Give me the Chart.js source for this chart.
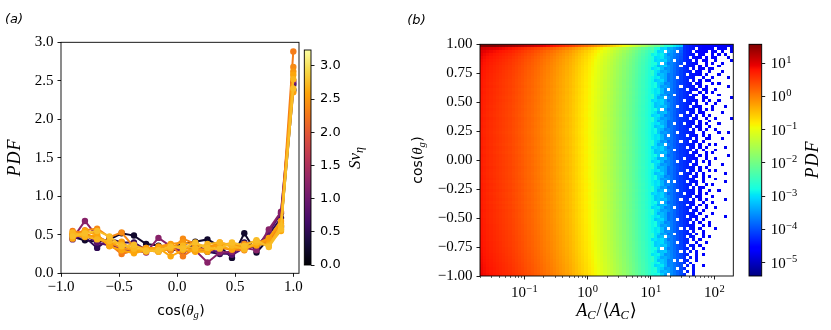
<!DOCTYPE html>
<html>
<head>
<meta charset="utf-8">
<script src="https://cdn.jsdelivr.net/npm/chart.js"></script>
<style>
  html, body { margin: 0; padding: 0; background: #fff; }
  #wrap { position: relative; width: 831px; height: 330px; }
  #wrap canvas { position: absolute; left: 0; top: 0; }
</style>
</head>
<body>
<div id="wrap">
  <canvas id="lines" width="831" height="330"></canvas>
  <canvas id="cbarA" width="831" height="330"></canvas>
  <canvas id="heat" width="831" height="330"></canvas>
  <canvas id="cbarB" width="831" height="330"></canvas>
</div>
<script>
// ---- panel (a): PDF of cos(theta_g), one line per Sv_eta ----
const cosTheta = [-0.9, -0.794, -0.689, -0.583, -0.478, -0.372, -0.267, -0.161, -0.056, 0.05,
                  0.156, 0.261, 0.367, 0.472, 0.578, 0.683, 0.789, 0.894, 1.0];
const svValues = [0.25, 0.5, 0.85, 1.2, 2.3, 2.4, 2.5, 2.55, 2.6, 2.7, 2.75];
const pdfSv025 = [0.47, 0.43, 0.41, 0.44, 0.52, 0.49, 0.38, 0.36, 0.33, 0.38, 0.41, 0.44, 0.35, 0.20, 0.52, 0.27, 0.45, 0.60, 2.38];
const pdfSv050 = [0.50, 0.47, 0.33, 0.45, 0.40, 0.40, 0.30, 0.33, 0.30, 0.31, 0.38, 0.28, 0.25, 0.26, 0.40, 0.33, 0.50, 0.72, 2.45];
const pdfSv085 = [0.44, 0.50, 0.40, 0.36, 0.33, 0.38, 0.31, 0.29, 0.32, 0.36, 0.29, 0.30, 0.28, 0.24, 0.33, 0.35, 0.53, 0.78, 2.47];
const pdfSv120 = [0.45, 0.68, 0.48, 0.40, 0.30, 0.30, 0.27, 0.46, 0.35, 0.28, 0.30, 0.14, 0.27, 0.28, 0.33, 0.30, 0.57, 0.80, 2.50];
const pdfSv230 = [0.55, 0.52, 0.45, 0.38, 0.25, 0.30, 0.30, 0.28, 0.36, 0.22, 0.33, 0.30, 0.33, 0.31, 0.30, 0.40, 0.42, 0.62, 2.88];
const pdfSv240 = [0.50, 0.56, 0.58, 0.47, 0.53, 0.34, 0.33, 0.31, 0.30, 0.45, 0.38, 0.33, 0.40, 0.36, 0.38, 0.42, 0.40, 0.58, 2.68];
const pdfSv250 = [0.52, 0.50, 0.47, 0.40, 0.33, 0.30, 0.28, 0.35, 0.38, 0.40, 0.37, 0.35, 0.37, 0.39, 0.33, 0.36, 0.45, 0.65, 2.62];
const pdfSv255 = [0.50, 0.47, 0.50, 0.36, 0.41, 0.28, 0.33, 0.33, 0.37, 0.33, 0.30, 0.31, 0.38, 0.35, 0.33, 0.38, 0.46, 0.68, 2.35];
const pdfSv260 = [0.45, 0.55, 0.50, 0.35, 0.30, 0.26, 0.30, 0.33, 0.22, 0.30, 0.28, 0.28, 0.35, 0.31, 0.35, 0.37, 0.38, 0.55, 2.58];
const pdfSv270 = [0.53, 0.48, 0.44, 0.42, 0.37, 0.32, 0.30, 0.28, 0.33, 0.36, 0.32, 0.38, 0.40, 0.36, 0.31, 0.40, 0.36, 0.62, 2.52];
const pdfSv275 = [0.48, 0.52, 0.55, 0.48, 0.35, 0.37, 0.29, 0.30, 0.35, 0.32, 0.40, 0.33, 0.32, 0.40, 0.36, 0.43, 0.34, 0.57, 2.40];
const lineSeries = [pdfSv025, pdfSv050, pdfSv085, pdfSv120, pdfSv230, pdfSv240, pdfSv250, pdfSv255, pdfSv260, pdfSv270, pdfSv275];
const svMax = 3.24;

const cosTicksA = [-1.0, -0.5, 0.0, 0.5, 1.0];
const pdfTicksA = [0.0, 0.5, 1.0, 1.5, 2.0, 2.5, 3.0];
const svTicks = [0.0, 0.5, 1.0, 1.5, 2.0, 2.5, 3.0];

// ---- panel (b): joint PDF of A_C/<A_C> and cos(theta_g) ----
// log10 PDF per A_C bin (80 log bins from 0.02 to 200), mid rows
const colLog = [
  0.76, 0.71, 0.67, 0.64, 0.61, 0.58, 0.55, 0.52, 0.49, 0.46,
  0.42, 0.38, 0.34, 0.30, 0.25, 0.21, 0.17, 0.12, 0.08, 0.03,
  -0.02, -0.07, -0.12, -0.17, -0.23, -0.28, -0.33, -0.39, -0.45, -0.52,
  -0.59, -0.66, -0.73, -0.80, -0.88, -0.96, -1.04, -1.12, -1.21, -1.30,
  -1.39, -1.48, -1.57, -1.66, -1.75, -1.85, -1.95, -2.05, -2.15, -2.26,
  -2.37, -2.48, -2.60, -2.72, -2.85, -2.98, -3.12, -3.26, -3.40, -3.55,
  -3.70, -3.85, -4.00, -4.12, -4.22, -4.30, -4.37, -4.43, -4.47, -4.50,
  -4.53, -4.55, -4.58, -4.60, -4.62, -4.64, -4.66, -4.68, -4.70, -4.72
];
// log10 offset per cos bin (80 bins, from cos = -1 up to cos = 1)
const rowShift = [
  0.16, 0.14, 0.13, 0.12, 0.11, 0.10, 0.09, 0.08, 0.07, 0.06,
  0.05, 0.05, 0.04, 0.04, 0.03, 0.03, 0.02, 0.02, 0.01, 0.01,
  0.00, 0.00, 0.01, -0.01, 0.00, -0.02, 0.00, -0.01, -0.02, 0.00,
  -0.02, -0.01, -0.03, -0.01, -0.02, -0.03, -0.02, -0.01, -0.03, -0.02,
  -0.03, -0.02, -0.04, -0.03, -0.02, -0.04, -0.03, -0.02, -0.03, -0.04,
  -0.03, -0.02, -0.03, -0.02, -0.01, -0.03, -0.02, -0.01, -0.02, -0.01,
  0.00, -0.01, 0.00, 0.01, 0.00, 0.02, 0.01, 0.02, 0.03, 0.04,
  0.05, 0.06, 0.07, 0.09, 0.11, 0.14, 0.18, 0.24, 0.36, 0.95
];
// tail of the map (A_C bins 54..79), rows listed from cos = 1 down to cos = -1
// '#' occupied, 'a' a bit higher, 'b' a bit lower, '.' empty
const tailFirstCol = 54;
const tailRows = [
  "##a#b#####################", "a##b#b########.#####.###.#", "a#b#.###.####.####.##.#..#", "b##a#b########.##..#.#.#..",
  "#b#a########.###.#.##...#.", "#b##a##.#####.#.##..#....#", "#a#.#b####.####..#.#..#...", "##b#a####.####.#.#...#....",
  "b#a#b#######.#.##.##......", "a##b#########.##..#...#...", "a#b##b#####.####.#...#....", "##a##b##.#####..#..#....#.",
  "#b#a#b######.#.#.##.......", "#a##b########.##...#.#....", "#a#b#####.####.#.#......#.", "##a#b.#####.###.##..#.....",
  "##a#b########..#.#.#......", "a##b#b#.####.##.#....#....", "a#b#.#########..##.......#", "b##a#b####.####.#.#..#....",
  "#b#a#########.#..#..#.....", "#b##a###.###.###...#...#..", "#a#.#b########.#.#.#......", "##b#a######.##.##.....#...",
  "b#a#b####.###.#.#.#.......", "a##b########.##..#..#....#", "a#b##b########.#..#.......", "##a##b#.##.###.#.#...#....",
  "#b#a#b#######.##..#.......", "#a##b#######.#.#.#..#.....", "#a#b####.#####..#....#..#.", "##a#b.#####.###.#.#.......",
  "##a#b########.#..##...#...", "a##b#b###.##.##.#.........", "a#b#.#########.#..#.#.....", "b##a#b#####.##.#.#.....#..",
  "#b#a###.#####.#.#...#.....", "#b##a#######.##..#.#......", "#a#.#b########.#.#......#.", "##b#a#####.####..#..#.....",
  "b#a#b###.####.#.#.#.......", "a##b########.##...#...#...", "a#b##b########.#.#........", "##a##b#####.##.#..#.#.....",
  "#b#a#b###.###.#.#......#..", "#a##b#######.##.#.#.......", "#a#b##########..#...#.....", "##a#b.#.###.###.#......#..",
  "##a#b########.#..#.#......", "a##b#b######.#.##.........", "a#b#.###.#####.#..#..#....", "b##a#b####.###.#.#........",
  "#b#a#########.##...#......", "#b##a####.##.#.#.#.....#..", "#a#.#b########..#..#......", "##b#a######.##.#.#........",
  "b#a#b##.#####.#..#..#.....", "a##b########.##.#.........", "a#b##b########.#...#......", "##a##b#####.###..#.....#..",
  "#b#a#b##.####.#.#.........", "#a##b#######.#.#..#.......", "#a#b##########..#.#........", "##a#b.###.#.##.#....#.....",
  "##a#b#######.#..#.........", "a##b#b#.#####.#.#.........", "a#b#.######.##..#.#.......", "b##a#b######.#.#..........",
  "#b#a####.###..#..#........", "#b##a######.##.#..........", "#a#.#b######.#..#.........", "##b#a####.#.#.#...........",
  "b#a#b#######..#.#.........", "a##b#######.#.#...........", "a#b##b#.#.##..#...........", "##a##b#####.#.............",
  "#b#a#b####.#.#..#.........", "#a##b###.##..#............", "#a#b######.#.#............", "##a#b.#####..#............"
];
const areaLogMin = -1.7, areaLogMax = 2.3, nAreaBins = 80;
const nCosBins = 80;
const cbLogMin = -5.4, cbLogMax = 1.57;

const cosTicksB = [-1.0, -0.75, -0.5, -0.25, 0.0, 0.25, 0.5, 0.75, 1.0];
const areaTickExps = [-1, 0, 1, 2];
const cbTickExps = [-5, -4, -3, -2, -1, 0, 1];

// ---- colour maps ----
const infernoStops = ['#000004', '#160b39', '#420a68', '#6a176e', '#932667', '#bc3754',
                      '#dd513a', '#f37819', '#fca50a', '#f6d746', '#fcffa4'];
function hexRgb(h) { return [1, 3, 5].map(k => parseInt(h.substr(k, 2), 16)); }
function inferno(t) {
  t = Math.max(0, Math.min(1, t));
  const p = t * 10, k = Math.min(9, Math.floor(p)), f = p - k;
  const a = hexRgb(infernoStops[k]), b = hexRgb(infernoStops[k + 1]);
  return 'rgb(' + a.map((v, n) => Math.round(v + (b[n] - v) * f)).join(',') + ')';
}
function seg(t, pts) {
  for (let k = 1; k < pts.length; k++) {
    if (t <= pts[k][0]) {
      const [a, va] = pts[k - 1], [b, vb] = pts[k];
      return va + (vb - va) * (t - a) / (b - a);
    }
  }
  return pts[pts.length - 1][1];
}
function jet(t) {
  t = Math.max(0, Math.min(1, t));
  const r = seg(t, [[0, 0], [0.35, 0], [0.66, 1], [0.89, 1], [1, 0.5]]);
  const g = seg(t, [[0, 0], [0.125, 0], [0.375, 1], [0.64, 1], [0.91, 0], [1, 0]]);
  const b = seg(t, [[0, 0.5], [0.11, 1], [0.34, 1], [0.65, 0], [1, 0]]);
  return 'rgb(' + Math.round(r * 255) + ',' + Math.round(g * 255) + ',' + Math.round(b * 255) + ')';
}

// ---- helpers ----
const SERIF = '"Liberation Serif", "DejaVu Serif", serif';
const SANS = '"DejaVu Sans", sans-serif';
const minus = s => s.replace('-', '\u2212');

function richText(ctx, segs, cx, cy, rot) {
  let w = 0;
  segs.forEach(s => { ctx.font = s.f; s.w = ctx.measureText(s.t).width; w += s.w + (s.gap || 0); });
  ctx.save();
  ctx.translate(cx, cy);
  if (rot) ctx.rotate(rot);
  ctx.fillStyle = '#000';
  ctx.textAlign = 'left';
  ctx.textBaseline = 'alphabetic';
  let x = -w / 2;
  segs.forEach(s => { ctx.font = s.f; ctx.fillText(s.t, x, s.dy || 0); x += s.w + (s.gap || 0); });
  ctx.restore();
}
function drawPow(ctx, x, y, exp, align) {
  const base = '10', sup = exp < 0 ? '\u2212' + (-exp) : String(exp);
  ctx.font = '15px ' + SERIF; const wb = ctx.measureText(base).width;
  ctx.font = '10.5px ' + SERIF; const ws = ctx.measureText(sup).width;
  const x0 = align === 'center' ? x - (wb + ws + 0.5) / 2 : x;
  ctx.fillStyle = '#000';
  ctx.textAlign = 'left';
  ctx.textBaseline = 'alphabetic';
  ctx.font = '15px ' + SERIF; ctx.fillText(base, x0, y);
  ctx.font = '10.5px ' + SERIF; ctx.fillText(sup, x0 + wb + 0.5, y - 5.5);
}

const frame = {
  id: 'frame',
  afterDraw(chart) {
    const a = chart.chartArea, c = chart.ctx;
    c.save();
    c.strokeStyle = '#000';
    c.lineWidth = 0.9;
    c.strokeRect(a.left, a.top, a.right - a.left, a.bottom - a.top);
    c.restore();
  }
};
const tickGrid = { drawOnChartArea: false, drawTicks: true, tickLength: 3.5, tickWidth: 0.9, tickColor: '#000' };
const base = {
  responsive: false, animation: false, devicePixelRatio: 1, events: [],
  plugins: { legend: { display: false }, tooltip: { enabled: false } }
};
const fixTicks = list => s => { s.ticks = list.map(v => ({ value: v })); };

// ---- (a) line chart ----
new Chart(document.getElementById('lines'), {
  type: 'line',
  data: {
    datasets: lineSeries.map((ys, i) => {
      const col = inferno(svValues[i] / svMax);
      return {
        data: cosTheta.map((x, k) => ({ x: x, y: ys[k] })),
        borderColor: col, backgroundColor: col, pointBackgroundColor: col,
        pointRadius: 3.2, pointBorderWidth: 0, borderWidth: 2, tension: 0,
        order: lineSeries.length - i
      };
    })
  },
  options: Object.assign({}, base, {
    layout: { autoPadding: false, padding: { left: 11, top: 42.3, right: 532, bottom: 26.7 } },
    scales: {
      x: {
        type: 'linear', min: -1.0, max: 1.049,
        afterBuildTicks: fixTicks(cosTicksA),
        afterFit: s => { s.height = 30; },
        grid: tickGrid, border: { display: false },
        ticks: { autoSkip: false, maxRotation: 0, padding: 1, color: '#000',
                 font: { family: SERIF, size: 15 }, callback: v => minus(v.toFixed(1)) }
      },
      y: {
        type: 'linear', min: 0, max: 3,
        afterBuildTicks: fixTicks(pdfTicksA),
        afterFit: s => { s.width = 50; },
        grid: tickGrid, border: { display: false },
        ticks: { autoSkip: false, padding: 4, color: '#000',
                 font: { family: SERIF, size: 15 }, callback: v => v.toFixed(1) }
      }
    }
  }),
  plugins: [frame, {
    id: 'titlesA',
    afterDraw(chart) {
      const c = chart.ctx;
      richText(c, [{ t: '(a)', f: 'italic 13px ' + SANS }], 14, 22.5);
      richText(c, [
        { t: 'cos(', f: '14px ' + SANS },
        { t: '\u03b8', f: 'italic 15px ' + SERIF },
        { t: 'g', f: 'italic 10.5px ' + SERIF, dy: 3, gap: 0.5 },
        { t: ')', f: '14px ' + SANS }
      ], 181, 314.5);
      richText(c, [{ t: 'P', f: 'italic 18px ' + SERIF, gap: 1 }, { t: 'D', f: 'italic 18px ' + SERIF, gap: 1 },
                   { t: 'F', f: 'italic 18px ' + SERIF }], 20, 158, -Math.PI / 2);
    }
  }]
});

// ---- (a) colour bar ----
new Chart(document.getElementById('cbarA'), {
  type: 'scatter',
  data: { datasets: [] },
  options: Object.assign({}, base, {
    layout: { autoPadding: false, padding: { left: 304.3, top: 50, right: 480, bottom: 65 } },
    scales: {
      x: { display: false, min: 0, max: 1 },
      y: {
        type: 'linear', position: 'right', min: 0, max: svMax,
        afterBuildTicks: fixTicks(svTicks),
        afterFit: s => { s.width = 40; },
        grid: tickGrid, border: { display: false },
        ticks: { autoSkip: false, padding: 5.5, color: '#000',
                 font: { family: SANS, size: 13 }, callback: v => v.toFixed(1) }
      }
    }
  }),
  plugins: [{
    id: 'gradA',
    beforeDatasetsDraw(chart) {
      const a = chart.chartArea, c = chart.ctx, y = chart.scales.y;
      for (let py = Math.floor(a.top); py < a.bottom; py++) {
        c.fillStyle = inferno(y.getValueForPixel(py + 0.5) / svMax);
        c.fillRect(a.left, py, a.right - a.left, 1);
      }
    },
    afterDraw(chart) {
      richText(chart.ctx, [{ t: 'Sv', f: 'italic 17px ' + SERIF },
                           { t: '\u03b7', f: 'italic 12px ' + SERIF, dy: 3 }], 360, 158, -Math.PI / 2);
    }
  }, frame]
});

// ---- (b) heat map ----
const areaEdges = [], cosEdges = [];
for (let i = 0; i <= nAreaBins; i++) areaEdges.push(Math.pow(10, areaLogMin + (areaLogMax - areaLogMin) * i / nAreaBins));
for (let j = 0; j <= nCosBins; j++) cosEdges.push(-1 + 2 * j / nCosBins);
function cellLog(i, j) {
  let v = colLog[i] + (i < 64 ? rowShift[j] : 0);
  if (i >= tailFirstCol) {
    const ch = tailRows[nCosBins - 1 - j].charAt(i - tailFirstCol);
    if (ch === '.') return null;
    if (ch === 'a') v += 0.2;
    if (ch === 'b') v -= 0.2;
  }
  return v;
}

new Chart(document.getElementById('heat'), {
  type: 'scatter',
  data: { datasets: [] },
  options: Object.assign({}, base, {
    layout: { autoPadding: false, padding: { left: 430, top: 44.3, right: 97.7, bottom: 24 } },
    scales: {
      x: {
        type: 'logarithmic', min: areaEdges[0], max: areaEdges[nAreaBins],
        afterBuildTicks: fixTicks(areaTickExps.map(e => Math.pow(10, e))),
        afterFit: s => { s.height = 30; },
        grid: tickGrid, border: { display: false },
        ticks: { display: false }
      },
      y: {
        type: 'linear', min: -1, max: 1,
        afterBuildTicks: fixTicks(cosTicksB),
        afterFit: s => { s.width = 50; },
        grid: tickGrid, border: { display: false },
        ticks: { autoSkip: false, padding: 4, color: '#000',
                 font: { family: SERIF, size: 15 }, callback: v => minus(v.toFixed(2)) }
      }
    }
  }),
  plugins: [{
    id: 'cells',
    beforeDatasetsDraw(chart) {
      const c = chart.ctx, a = chart.chartArea, x = chart.scales.x, y = chart.scales.y;
      c.save();
      c.beginPath(); c.rect(a.left, a.top, a.right - a.left, a.bottom - a.top); c.clip();
      for (let j = 0; j < nCosBins; j++) {
        const yb = Math.round(y.getPixelForValue(cosEdges[j]));
        const yt = Math.round(y.getPixelForValue(cosEdges[j + 1]));
        for (let i = 0; i < nAreaBins; i++) {
          const v = cellLog(i, j);
          if (v === null) continue;
          const xl = Math.round(x.getPixelForValue(areaEdges[i]));
          const xr = Math.round(x.getPixelForValue(areaEdges[i + 1]));
          c.fillStyle = jet((v - cbLogMin) / (cbLogMax - cbLogMin));
          c.fillRect(xl, yt, xr - xl, yb - yt);
        }
      }
      c.restore();
    },
    afterDraw(chart) {
      const c = chart.ctx, a = chart.chartArea, x = chart.scales.x;
      // minor log ticks
      c.save();
      c.strokeStyle = '#000'; c.lineWidth = 0.6;
      for (let e = -2; e <= 2; e++) {
        for (let m = 2; m <= 9; m++) {
          const v = m * Math.pow(10, e);
          if (v < x.min || v > x.max) continue;
          const px = Math.round(x.getPixelForValue(v)) + 0.5;
          c.beginPath(); c.moveTo(px, a.bottom); c.lineTo(px, a.bottom + 2); c.stroke();
        }
      }
      c.restore();
      areaTickExps.forEach(e => drawPow(c, x.getPixelForValue(Math.pow(10, e)), 297, e, 'center'));
      richText(c, [{ t: '(b)', f: 'italic 13px ' + SANS }], 416.5, 23.5);
      richText(c, [
        { t: 'cos(', f: '14px ' + SANS },
        { t: '\u03b8', f: 'italic 15px ' + SERIF },
        { t: 'g', f: 'italic 10.5px ' + SERIF, dy: 3, gap: 0.5 },
        { t: ')', f: '14px ' + SANS }
      ], 422, 160, -Math.PI / 2);
      richText(c, [
        { t: 'A', f: 'italic 18px ' + SERIF },
        { t: 'C', f: 'italic 12.5px ' + SERIF, dy: 3, gap: 1 },
        { t: '/', f: '18px ' + SERIF, gap: 1 },
        { t: '\u27e8', f: '18px "DejaVu Serif", serif' },
        { t: 'A', f: 'italic 18px ' + SERIF },
        { t: 'C', f: 'italic 12.5px ' + SERIF, dy: 3, gap: 1 },
        { t: '\u27e9', f: '18px "DejaVu Serif", serif' }
      ], 606.5, 315.5);
    }
  }, frame]
});

// ---- (b) colour bar ----
new Chart(document.getElementById('cbarB'), {
  type: 'scatter',
  data: { datasets: [] },
  options: Object.assign({}, base, {
    layout: { autoPadding: false, padding: { left: 749, top: 44.3, right: 29.3, bottom: 54 } },
    scales: {
      x: { display: false, min: 0, max: 1 },
      y: {
        type: 'logarithmic', position: 'right',
        min: Math.pow(10, cbLogMin), max: Math.pow(10, cbLogMax),
        afterBuildTicks: fixTicks(cbTickExps.map(e => Math.pow(10, e))),
        afterFit: s => { s.width = 40; },
        grid: tickGrid, border: { display: false },
        ticks: { display: false }
      }
    }
  }),
  plugins: [{
    id: 'gradB',
    beforeDatasetsDraw(chart) {
      const a = chart.chartArea, c = chart.ctx, y = chart.scales.y;
      for (let py = Math.floor(a.top); py < a.bottom; py++) {
        const lv = Math.log10(y.getValueForPixel(py + 0.5));
        c.fillStyle = jet((lv - cbLogMin) / (cbLogMax - cbLogMin));
        c.fillRect(a.left, py, a.right - a.left, 1);
      }
    },
    afterDraw(chart) {
      const c = chart.ctx, a = chart.chartArea, y = chart.scales.y;
      cbTickExps.forEach(e => drawPow(c, a.right + 9, y.getPixelForValue(Math.pow(10, e)) + 5, e, 'left'));
      richText(c, [{ t: 'P', f: 'italic 18px ' + SERIF, gap: 1 }, { t: 'D', f: 'italic 18px ' + SERIF, gap: 1 },
                   { t: 'F', f: 'italic 18px ' + SERIF }], 818, 160, -Math.PI / 2);
    }
  }, frame]
});
</script>
</body>
</html>
